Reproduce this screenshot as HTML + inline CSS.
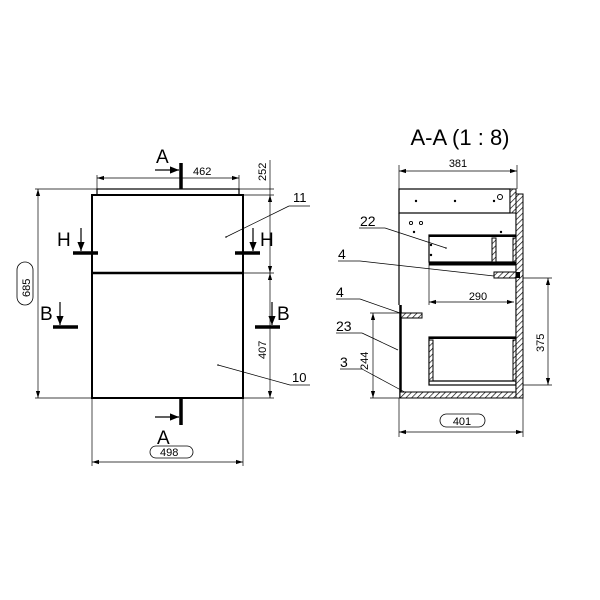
<!DOCTYPE html>
<html><head><meta charset="utf-8"><style>
html,body{margin:0;padding:0;background:#fff}
svg{display:block}
text{font-family:"Liberation Sans",sans-serif;fill:#000}
</style></head><body>
<svg width="600" height="600" viewBox="0 0 600 600" xmlns="http://www.w3.org/2000/svg">
<defs>
<pattern id="h" width="4" height="4" patternUnits="userSpaceOnUse" patternTransform="rotate(45)">
<rect width="4" height="4" fill="#fff"/><line x1="0" y1="0" x2="0" y2="4" stroke="#000" stroke-width="1.3"/>
</pattern>
<marker id="ar" viewBox="0 0 10 10" refX="10" refY="5" markerWidth="7" markerHeight="7" orient="auto-start-reverse" markerUnits="userSpaceOnUse">
<path d="M0,2 L10,5 L0,8 z" fill="#000"/></marker>
<marker id="ab" viewBox="0 0 10 10" refX="10" refY="5" markerWidth="9" markerHeight="9" orient="auto" markerUnits="userSpaceOnUse">
<path d="M0,1 L10,5 L0,9 z" fill="#000"/></marker>
</defs>

<!-- LEFT VIEW -->
<g stroke="#000" fill="none">
<rect x="97" y="189" width="142" height="6" stroke-width="1.2"/>
<rect x="92" y="195" width="151" height="203" stroke-width="2"/>
<line x1="92" y1="273" x2="243" y2="273" stroke-width="2.5"/>
<!-- dims -->
<g stroke-width="0.7">
<line x1="97" y1="189" x2="97" y2="175"/><line x1="239" y1="189" x2="239" y2="175"/>
<line x1="97" y1="178" x2="239" y2="178" marker-start="url(#ar)" marker-end="url(#ar)"/>
<line x1="35" y1="189" x2="97" y2="189"/><line x1="35" y1="398" x2="92" y2="398"/>
<line x1="38" y1="189" x2="38" y2="398" marker-start="url(#ar)" marker-end="url(#ar)"/>
<line x1="92" y1="398" x2="92" y2="466"/><line x1="243" y1="398" x2="243" y2="466"/>
<line x1="92" y1="462" x2="243" y2="462" marker-start="url(#ar)" marker-end="url(#ar)"/>
<line x1="239" y1="189" x2="274" y2="189"/><line x1="243" y1="195" x2="274" y2="195"/>
<line x1="243" y1="273" x2="274" y2="273"/><line x1="243" y1="398" x2="274" y2="398"/>
<line x1="270" y1="160" x2="270" y2="195"/>
<line x1="270" y1="195" x2="270" y2="273" marker-start="url(#ar)" marker-end="url(#ar)"/>
<line x1="270" y1="273" x2="270" y2="398" marker-start="url(#ar)" marker-end="url(#ar)"/>
<!-- leaders -->
<line x1="226" y1="237" x2="289" y2="206"/><line x1="289" y1="206" x2="310" y2="206"/>
<line x1="218" y1="365" x2="290" y2="385"/><line x1="290" y1="385" x2="310" y2="385"/>
</g>
<rect x="150" y="446" width="43" height="12" rx="6" stroke-width="0.8"/>
<rect x="17" y="262" width="16" height="43" rx="8" stroke-width="0.8"/>
<!-- section marks -->
<g stroke-width="3.5">
<line x1="181" y1="163" x2="181" y2="189"/><line x1="181" y1="398" x2="181" y2="425"/>
<line x1="73" y1="253" x2="98" y2="253"/><line x1="235" y1="253" x2="260" y2="253"/>
<line x1="53" y1="327" x2="78" y2="327"/><line x1="255" y1="327" x2="280" y2="327"/>
</g>
<g stroke-width="1.2">
<line x1="155" y1="170" x2="179" y2="170" marker-end="url(#ab)"/>
<line x1="155" y1="417" x2="179" y2="417" marker-end="url(#ab)"/>
<line x1="81" y1="228" x2="81" y2="251" marker-end="url(#ab)"/>
<line x1="253" y1="228" x2="253" y2="251" marker-end="url(#ab)"/>
<line x1="60" y1="302" x2="60" y2="325" marker-end="url(#ab)"/>
<line x1="272" y1="302" x2="272" y2="325" marker-end="url(#ab)"/>
</g>
</g>
<circle cx="226" cy="237" r="0.8"/><circle cx="218" cy="365" r="0.8"/>
<text x="156" y="163" font-size="19">A</text>
<text x="157" y="444" font-size="19">A</text>
<text x="57" y="246" font-size="19">H</text>
<text x="260" y="246" font-size="19">H</text>
<text x="40" y="320" font-size="19">B</text>
<text x="277" y="320" font-size="19">B</text>
<text x="193" y="175" font-size="11">462</text>
<text x="160" y="456" font-size="11">498</text>
<text x="293" y="202" font-size="13">11</text>
<text x="292" y="382" font-size="13">10</text>
<text transform="translate(30,297) rotate(-90)" font-size="11">685</text>
<text transform="translate(266,181) rotate(-90)" font-size="11">252</text>
<text transform="translate(266,359) rotate(-90)" font-size="11">407</text>

<!-- RIGHT VIEW -->
<text x="460" y="145" font-size="22" text-anchor="middle">A-A (1 : 8)</text>
<g stroke="#000" fill="none">
<g stroke-width="0.7">
<line x1="399" y1="165" x2="399" y2="189"/><line x1="517" y1="165" x2="517" y2="189"/>
<line x1="399" y1="171" x2="517" y2="171" marker-start="url(#ar)" marker-end="url(#ar)"/>
<line x1="399" y1="398" x2="399" y2="437"/><line x1="523" y1="398" x2="523" y2="437"/>
<line x1="399" y1="432" x2="523" y2="432" marker-start="url(#ar)" marker-end="url(#ar)"/>
<line x1="429" y1="262" x2="429" y2="305"/>
<line x1="429" y1="302" x2="514" y2="302" marker-start="url(#ar)" marker-end="url(#ar)"/>
<line x1="370" y1="313" x2="401" y2="313"/><line x1="370" y1="398" x2="401" y2="398"/>
<line x1="373" y1="313" x2="373" y2="398" marker-start="url(#ar)" marker-end="url(#ar)"/>
<line x1="518" y1="278" x2="552" y2="278"/><line x1="518" y1="385" x2="552" y2="385"/>
<line x1="548" y1="278" x2="548" y2="385" marker-start="url(#ar)" marker-end="url(#ar)"/>
<!-- leaders -->
<line x1="359" y1="228" x2="385" y2="228"/><line x1="385" y1="228" x2="446" y2="248"/>
<line x1="338" y1="261" x2="360" y2="261"/><line x1="360" y1="261" x2="494" y2="276"/>
<line x1="336" y1="299" x2="360" y2="299"/><line x1="360" y1="299" x2="400" y2="313"/>
<line x1="336" y1="333" x2="362" y2="333"/><line x1="362" y1="333" x2="398" y2="350"/>
<line x1="340" y1="369" x2="362" y2="369"/><line x1="362" y1="369" x2="412" y2="396"/>
</g>
<g stroke-width="1.2">
<rect x="399" y="189" width="111" height="24"/>
<line x1="399" y1="213" x2="399" y2="305"/>
<line x1="516" y1="213" x2="516" y2="392"/>
<rect x="429" y="235" width="87" height="27"/>
<rect x="429" y="337" width="87" height="48"/>
<line x1="429" y1="381" x2="516" y2="381"/>
</g>
<line x1="429" y1="264" x2="516" y2="264" stroke-width="3"/>
<line x1="429" y1="236" x2="516" y2="236" stroke-width="2"/>
<line x1="429" y1="338" x2="516" y2="338" stroke-width="2"/>
<line x1="400.5" y1="305" x2="400.5" y2="398" stroke-width="2.5"/>
<g fill="url(#h)" stroke-width="1">
<rect x="510" y="189" width="6" height="24"/>
<rect x="516" y="194" width="7" height="204"/>
<rect x="400" y="392" width="116" height="6"/>
<rect x="492" y="238" width="4" height="24"/>
<rect x="513" y="238" width="3" height="24"/>
<rect x="494" y="272" width="22" height="6"/>
<rect x="401" y="313" width="21" height="5"/>
<rect x="429" y="340" width="4" height="41"/>
<rect x="513" y="340" width="3" height="41"/>
</g>
<circle cx="500" cy="197" r="2.5" stroke-width="1"/>
<circle cx="411" cy="223" r="1.6" stroke-width="0.9"/><circle cx="421" cy="223" r="1.6" stroke-width="0.9"/>
</g>
<rect x="516" y="272" width="4" height="6" fill="#000"/>
<rect x="506" y="262" width="4" height="3" fill="#000"/>
<g fill="#000">
<circle cx="416" cy="201" r="1.2"/><circle cx="455" cy="201" r="1.2"/><circle cx="494" cy="201" r="1.2"/>
<circle cx="414" cy="232" r="1.2"/><circle cx="501" cy="232" r="1.2"/>
<circle cx="431" cy="245" r="1.2"/><circle cx="431" cy="255" r="1.2"/>
<circle cx="446" cy="248" r="0.8"/>
</g>
<text x="458" y="167" font-size="11" text-anchor="middle">381</text>
<text x="478" y="300" font-size="11" text-anchor="middle">290</text>
<rect x="440" y="414" width="45" height="13" rx="6.5" fill="none" stroke="#000" stroke-width="0.8"/>
<text x="462" y="425" font-size="11" text-anchor="middle">401</text>
<text transform="translate(368,370) rotate(-90)" font-size="11">244</text>
<text transform="translate(544,352) rotate(-90)" font-size="11">375</text>
<text x="360" y="226" font-size="14">22</text>
<text x="338" y="259" font-size="14">4</text>
<text x="336" y="297" font-size="14">4</text>
<text x="336" y="331" font-size="14">23</text>
<text x="340" y="367" font-size="14">3</text>
</svg>
</body></html>
